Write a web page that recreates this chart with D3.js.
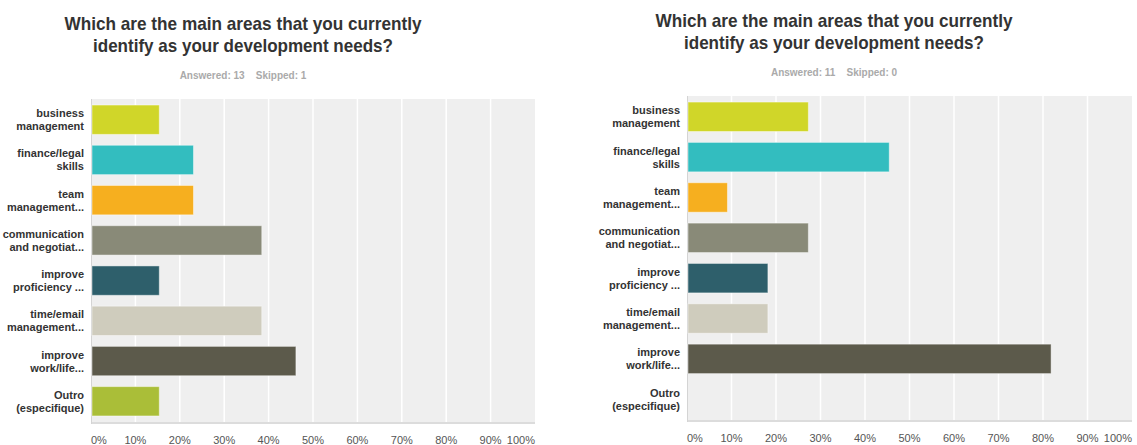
<!DOCTYPE html>
<html>
<head>
<meta charset="utf-8">
<script src="https://cdn.jsdelivr.net/npm/d3@7"></script>
<style>
  body { margin: 0; background: #fff; }
  svg { display: block; font-family: "Liberation Sans", Arial, sans-serif; }
</style>
</head>
<body>
<svg id="chart" width="1137" height="445"></svg>
<script>
  // Data
  var categories = [
    ['business', 'management'],
    ['finance/legal', 'skills'],
    ['team', 'management...'],
    ['communication', 'and negotiat...'],
    ['improve', 'proficiency ...'],
    ['time/email', 'management...'],
    ['improve', 'work/life...'],
    ['Outro', '(especifique)']
  ]
  var colors = ['#d0d629', '#33bdbf', '#f6af1f', '#898a78', '#2e5f6b', '#cfccbd', '#5c5a4b', '#aabe38']
  var ticks = [0, 10, 20, 30, 40, 50, 60, 70, 80, 90, 100]
  var titleLines = ['Which are the main areas that you currently', 'identify as your development needs?']

  // percent of respondents
  var valuesLeft = [15.38, 23.08, 23.08, 38.46, 15.38, 38.46, 46.15, 15.38]
  var valuesRight = [27.27, 45.45, 9.09, 27.27, 18.18, 18.18, 81.82, 0]
  var answeredLeft = 13, skippedLeft = 1
  var answeredRight = 11, skippedRight = 0

  var svg = d3.select('#chart')
  var titleWidths = [357, 300]

  function drawChart (opts) {
    var g = svg.append('g')

    // Title (squeezed a bit to match the narrower original face)
    titleLines.forEach(function (line, i) {
      g.append('text')
        .attr('x', opts.titleX)
        .attr('y', opts.titleY + i * 22)
        .attr('text-anchor', 'middle')
        .attr('font-size', 19)
        .attr('font-weight', 'bold')
        .attr('fill', '#333')
        .attr('textLength', titleWidths[i])
        .attr('lengthAdjust', 'spacingAndGlyphs')
        .text(line)
    })

    g.append('text')
      .attr('x', opts.titleX)
      .attr('y', opts.titleY + 49)
      .attr('text-anchor', 'middle')
      .attr('font-size', 10)
      .attr('font-weight', 'bold')
      .attr('fill', '#aaa')
      .attr('xml:space', 'preserve')
      .text('Answered: ' + opts.answered + '    Skipped: ' + opts.skipped)

    var x = d3.scaleLinear().domain([0, 100]).range([opts.left, opts.right])
    var y = d3.scaleBand()
      .domain(d3.range(categories.length))
      .range([opts.top, opts.bottom])
      .paddingInner(0.27)
      .paddingOuter(0.15)

    // Plot background
    g.append('rect')
      .attr('x', opts.left)
      .attr('y', opts.top)
      .attr('width', opts.right - opts.left)
      .attr('height', opts.bottom - opts.top)
      .attr('fill', '#efefef')

    // Grid lines
    g.selectAll('.grid')
      .data(ticks.slice(1, -1))
      .enter().append('line')
      .attr('x1', function (d) { return x(d) })
      .attr('x2', function (d) { return x(d) })
      .attr('y1', opts.top)
      .attr('y2', opts.bottom)
      .attr('stroke', '#fff')
      .attr('stroke-width', 1.5)

    // Axis lines
    g.append('line')
      .attr('x1', opts.left).attr('x2', opts.right)
      .attr('y1', opts.bottom + 1).attr('y2', opts.bottom + 1)
      .attr('stroke', '#dcdcdc').attr('stroke-width', 2)
    g.append('line')
      .attr('x1', opts.left + 0.5).attr('x2', opts.left + 0.5)
      .attr('y1', opts.top).attr('y2', opts.bottom + 2)
      .attr('stroke', '#d4d4d4').attr('stroke-width', 1)

    // Bars
    g.selectAll('.bar')
      .data(opts.values)
      .enter().append('rect')
      .filter(function (d) { return d > 0 })
      .attr('x', x(0) + 1)
      .attr('y', function (d, i) { return y(i) })
      .attr('width', function (d) { return x(d) - x(0) - 1 })
      .attr('height', y.bandwidth())
      .attr('fill', function (d, i) { return colors[i] })
      .attr('stroke', 'rgba(255,255,255,0.45)')
      .attr('stroke-width', 1)

    // Category labels
    var labels = g.selectAll('.cat')
      .data(categories)
      .enter().append('text')
      .attr('text-anchor', 'end')
      .attr('font-size', 11)
      .attr('font-weight', 'bold')
      .attr('fill', '#333')
    labels.each(function (lines, i) {
      var cy = y(i) + y.bandwidth() / 2
      d3.select(this).selectAll('tspan')
        .data(lines)
        .enter().append('tspan')
        .attr('x', opts.left - 7)
        .attr('y', function (d, j) { return cy - 2.5 + j * 13 })
        .text(function (d) { return d })
    })

    // Tick labels
    g.selectAll('.tick')
      .data(ticks)
      .enter().append('text')
      .attr('x', function (d) { return x(d) })
      .attr('y', opts.bottom + 22)
      .attr('text-anchor', function (d, i) {
        return i === 0 ? 'start' : (i === ticks.length - 1 ? 'end' : 'middle')
      })
      .attr('font-size', 11)
      .attr('fill', '#555')
      .text(function (d) { return d + '%' })
  }

  drawChart({
    values: valuesLeft, answered: answeredLeft, skipped: skippedLeft,
    titleX: 243, titleY: 30,
    left: 91, right: 535, top: 99, bottom: 422
  })
  drawChart({
    values: valuesRight, answered: answeredRight, skipped: skippedRight,
    titleX: 834, titleY: 27,
    left: 687, right: 1132, top: 96, bottom: 420
  })
</script>
</body>
</html>
